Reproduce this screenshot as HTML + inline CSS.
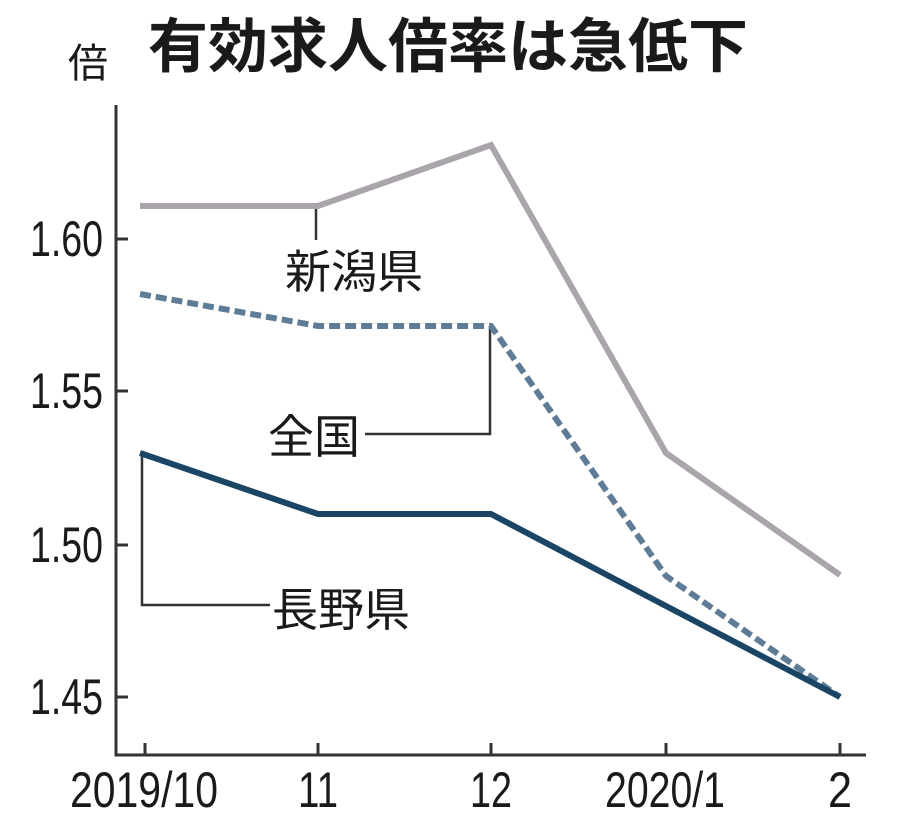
<!DOCTYPE html>
<html><head><meta charset="utf-8"><style>
html,body{margin:0;padding:0;background:#fff;}
svg{display:block;}
text{font-family:"Liberation Sans","Noto Sans CJK JP",sans-serif;fill:#1a1a1a;}
</style></head><body>
<svg width="900" height="838" viewBox="0 0 900 838" xmlns="http://www.w3.org/2000/svg">
<text x="148" y="67" font-size="59" font-weight="bold" font-family="Noto Sans CJK JP, sans-serif" textLength="600" lengthAdjust="spacingAndGlyphs">有効求人倍率は急低下</text>
<text x="68" y="77" font-size="40" font-family="Noto Sans CJK JP, sans-serif">倍</text>
<polyline points="116,105 116,755 866,755" fill="none" stroke="#333" stroke-width="3"/>
<g stroke="#333" stroke-width="3">
<line x1="116" y1="239" x2="128" y2="239"/>
<line x1="116" y1="391" x2="128" y2="391"/>
<line x1="116" y1="545" x2="128" y2="545"/>
<line x1="116" y1="697" x2="128" y2="697"/>
<line x1="145" y1="743" x2="145" y2="755"/>
<line x1="318" y1="743" x2="318" y2="755"/>
<line x1="491" y1="743" x2="491" y2="755"/>
<line x1="666" y1="743" x2="666" y2="755"/>
<line x1="840" y1="743" x2="840" y2="755"/>
</g>
<g font-size="50" text-anchor="end">
<text x="103" y="256" textLength="73" lengthAdjust="spacingAndGlyphs">1.60</text>
<text x="103" y="408" textLength="73" lengthAdjust="spacingAndGlyphs">1.55</text>
<text x="103" y="562" textLength="73" lengthAdjust="spacingAndGlyphs">1.50</text>
<text x="103" y="714" textLength="73" lengthAdjust="spacingAndGlyphs">1.45</text>
</g>
<g font-size="50">
<text x="70" y="807" textLength="148" lengthAdjust="spacingAndGlyphs">2019/10</text>
<text x="298" y="807" textLength="40" lengthAdjust="spacingAndGlyphs">11</text>
<text x="470" y="807" textLength="42" lengthAdjust="spacingAndGlyphs">12</text>
<text x="605" y="807" textLength="120" lengthAdjust="spacingAndGlyphs">2020/1</text>
<text x="828" y="807" textLength="24" lengthAdjust="spacingAndGlyphs">2</text>
</g>
<g stroke="#333" stroke-width="2.5" fill="none">
<line x1="316" y1="206" x2="316" y2="240"/>
<polyline points="490,326 490,434 365,434"/>
<polyline points="142,453 142,605 270,605"/>
</g>
<polyline points="140,206 318,206 491,145 666,453 840,575" fill="none" stroke="#a9a5ab" stroke-width="6"/>
<polyline points="140,294 318,326 491,326 666,576 840,697" fill="none" stroke="#5f7c97" stroke-width="6" stroke-dasharray="11,5"/>
<polyline points="140,453 318,514 491,514 666,606 840,697" fill="none" stroke="#1a4564" stroke-width="6"/>
<g font-size="46" font-family="Noto Sans CJK JP, sans-serif">
<text x="285" y="288">新潟県</text>
<text x="268" y="453">全国</text>
<text x="272" y="626">長野県</text>
</g>
</svg>
</body></html>
